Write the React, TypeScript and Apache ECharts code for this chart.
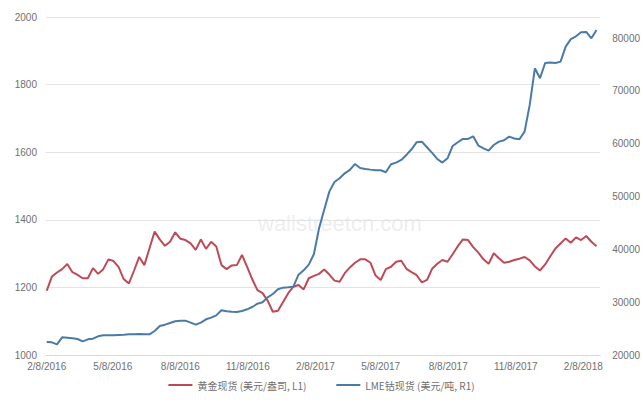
import React, { useEffect, useRef } from "react";
import * as echarts from "echarts";

// Weekly sampling starting 2016-02-08
const START = [2016, 1, 8];
const WEEKS = 108;

const goldSpot = [
  1190, 1232, 1244, 1254, 1269, 1245, 1237, 1227, 1227, 1257, 1240, 1254, 1283, 1278, 1260, 1224, 1212, 1250, 1290,
  1266, 1316, 1365, 1342, 1323, 1335, 1363, 1344, 1340, 1330, 1311, 1342, 1314, 1335, 1321, 1266, 1254, 1265,
  1266, 1296, 1261, 1224, 1192, 1183, 1161, 1128, 1131, 1157, 1183, 1202, 1207, 1194, 1227, 1234, 1240, 1253,
  1238, 1220, 1217, 1242, 1259, 1273, 1283, 1283, 1273, 1235, 1222, 1254, 1261, 1276, 1279, 1255, 1245, 1236,
  1215, 1222, 1255, 1270, 1281, 1276, 1298, 1322, 1342, 1340, 1319, 1303, 1283, 1270, 1301, 1286, 1273, 1276, 1281,
  1285, 1290, 1280, 1262, 1250, 1268, 1292, 1315, 1330, 1345, 1332, 1348, 1340, 1352, 1335, 1322,
];

const cobaltSpot = [
  22460, 22400, 22020, 23350, 23285, 23160, 23030, 22590, 22970, 23095, 23540, 23730, 23730, 23730, 23790, 23850, 23920, 23920, 23980,
  23920, 23920, 24550, 25500, 25745, 26060, 26380, 26500, 26500, 26125, 25750, 26125, 26756, 27070, 27500, 28460, 28270, 28200,
  28145, 28335, 28650, 29090, 29720, 29975, 30920, 31555, 32440, 32750, 32815, 32940, 35215, 36036, 37110, 39130, 44000, 47500,
  50935, 52765, 53460, 54400, 55040, 56174, 55420, 55230, 55100, 54975, 54975, 54600, 56110, 56430, 56930, 57880, 58950, 60300,
  60400, 59330, 58260, 57120, 56430, 57250, 59580, 60280, 60910, 60910, 61415, 59650, 59140, 58700, 59770, 60400, 60660, 61350, 61000,
  60845, 62300, 67350, 74290, 72400, 75300, 75370, 75300, 75555, 78400, 79800, 80350, 81110, 81170, 79970, 81550,
];

const xTickDates = [
  [2016, 1, 8], [2016, 4, 8], [2016, 7, 8], [2016, 10, 8],
  [2017, 1, 8], [2017, 4, 8], [2017, 7, 8], [2017, 10, 8], [2018, 1, 8],
];

const seriesNames = ["黄金现货 (美元/盎司, L1)", "LME钴现货 (美元/吨, R1)"];

const DAY = 86400000;

export default function App() {
  const ref = useRef<HTMLDivElement>(null);
  useEffect(() => {
    if (!ref.current) return;
    const chart = echarts.init(ref.current, null, { renderer: "svg" });
    const t0 = Date.UTC(START[0], START[1], START[2]);
    const dayOf = (d: number[]) => Math.round((Date.UTC(d[0], d[1], d[2]) - t0) / DAY);
    const days = Array.from({ length: WEEKS }, (_, k) => 7 * k);
    const goldData = goldSpot.map((v, i) => [days[i], v]);
    const cobaltData = cobaltSpot.map((v, i) => [days[i], v]);
    const tickVals = xTickDates.map(dayOf);
    const labelStyle = { color: "#707070", fontSize: 10, fontFamily: "Liberation Sans, Arial, sans-serif" };
    const plain = (v: number) => String(v);
    chart.setOption({
      animation: false,
      backgroundColor: "#ffffff",
      grid: { left: 46, right: 39, top: 17, bottom: 48 },
      graphic: [
        {
          type: "text",
          left: 258,
          top: 212,
          style: {
            text: "wallstreetcn.com",
            fill: "rgba(190,195,205,0.3)",
            fontSize: 22,
            fontFamily: "Liberation Sans, Arial, sans-serif",
          },
        },
      ],
      legend: {
        bottom: 8,
        left: "center",
        icon: "rect",
        itemWidth: 24,
        itemHeight: 2,
        itemGap: 30,
        textStyle: { color: "#707070", fontSize: 10, fontFamily: "Noto Sans CJK SC, sans-serif" },
        data: seriesNames,
      },
      xAxis: {
        type: "value",
        min: -1,
        max: dayOf([2018, 2, 3]),
        axisLine: { show: true, lineStyle: { color: "#d9d9d9" } },
        axisTick: { show: false },
        splitLine: { show: false },
        axisLabel: {
          ...labelStyle,
          margin: 6,
          customValues: tickVals,
          formatter: (val: number) => {
            const d = new Date(t0 + val * DAY);
            return `${d.getUTCMonth() + 1}/${d.getUTCDate()}/${d.getUTCFullYear()}`;
          },
        },
      },
      yAxis: [
        {
          type: "value",
          min: 1000,
          max: 2000,
          interval: 200,
          axisLine: { show: false },
          axisTick: { show: false },
          splitLine: { lineStyle: { color: "#e3e3e3" } },
          axisLabel: { ...labelStyle, margin: 9, formatter: plain },
        },
        {
          type: "value",
          min: 20000,
          max: 84000,
          interval: 10000,
          axisLine: { show: false },
          axisTick: { show: false },
          splitLine: { show: false },
          axisLabel: { ...labelStyle, margin: 12, showMaxLabel: false, formatter: plain },
        },
      ],
      series: [
        {
          name: seriesNames[0],
          type: "line",
          yAxisIndex: 0,
          data: goldData,
          showSymbol: false,
          symbol: "none",
          lineStyle: { color: "#bd4a56", width: 2 },
          itemStyle: { color: "#bd4a56" },
        },
        {
          name: seriesNames[1],
          type: "line",
          yAxisIndex: 1,
          data: cobaltData,
          showSymbol: false,
          symbol: "none",
          lineStyle: { color: "#4a7aa8", width: 2 },
          itemStyle: { color: "#4a7aa8" },
        },
      ],
    });
    return () => chart.dispose();
  }, []);
  return (
    <div
      ref={ref}
      style={{ position: "absolute", left: 0, top: 0, width: 643, height: 403 }}
    />
  );
}
